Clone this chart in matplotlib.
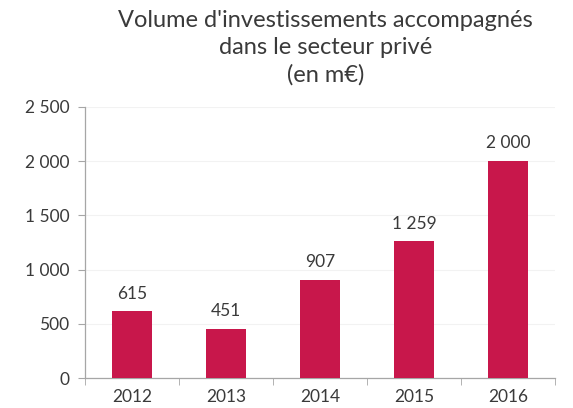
import matplotlib.pyplot as plt
import numpy as np

years = ["2012", "2013", "2014", "2015", "2016"]
volumes = [615, 451, 907, 1259, 2000]
value_labels = ["615", "451", "907", "1 259", "2 000"]
y_ticks = [0, 500, 1000, 1500, 2000, 2500]
y_tick_labels = ["0", "500", "1 000", "1 500", "2 000", "2 500"]

BAR_COLOR = "#C8174B"
TEXT_COLOR = "#3a3a3a"
AXIS_COLOR = "#a6a6a6"

plt.rcParams["font.family"] = ["Lato", "DejaVu Sans"]

fig = plt.figure(figsize=(5.73, 4.08), dpi=100)
ax = fig.add_axes([0.148, 0.0735, 0.821, 0.6645])

x = np.arange(len(years))
ax.bar(x, volumes, width=0.42, color=BAR_COLOR, zorder=3)

for xi, v, lab in zip(x, volumes, value_labels):
    ax.text(xi, v + 90, lab, ha="center", va="bottom", fontsize=12.5, color=TEXT_COLOR)

ax.set_xlim(-0.5, len(years) - 0.5)
ax.set_ylim(0, 2500)
ax.set_yticks(y_ticks)
ax.set_yticklabels(y_tick_labels)
ax.set_xticks(x)
ax.set_xticklabels(years)
ax.set_xticks(np.arange(-0.5, len(years)), minor=True)

ax.tick_params(axis="y", length=5, color=AXIS_COLOR, labelsize=12.5, labelcolor=TEXT_COLOR, pad=6)
ax.tick_params(axis="x", which="major", length=0, labelsize=12.5, labelcolor=TEXT_COLOR, pad=8)
ax.tick_params(axis="x", which="minor", length=5, color=AXIS_COLOR)

ax.yaxis.grid(True, color="#f2f2f2", linewidth=0.8, zorder=0)
for side in ["top", "right"]:
    ax.spines[side].set_visible(False)
for side in ["left", "bottom"]:
    ax.spines[side].set_color(AXIS_COLOR)
    ax.spines[side].set_linewidth(0.9)

fig.text(0.568, 0.975, "Volume d'investissements accompagnés\ndans le secteur privé\n(en m€)",
         ha="center", va="top", fontsize=17, color=TEXT_COLOR, linespacing=1.33)

fig.savefig("out.png", dpi=100)
